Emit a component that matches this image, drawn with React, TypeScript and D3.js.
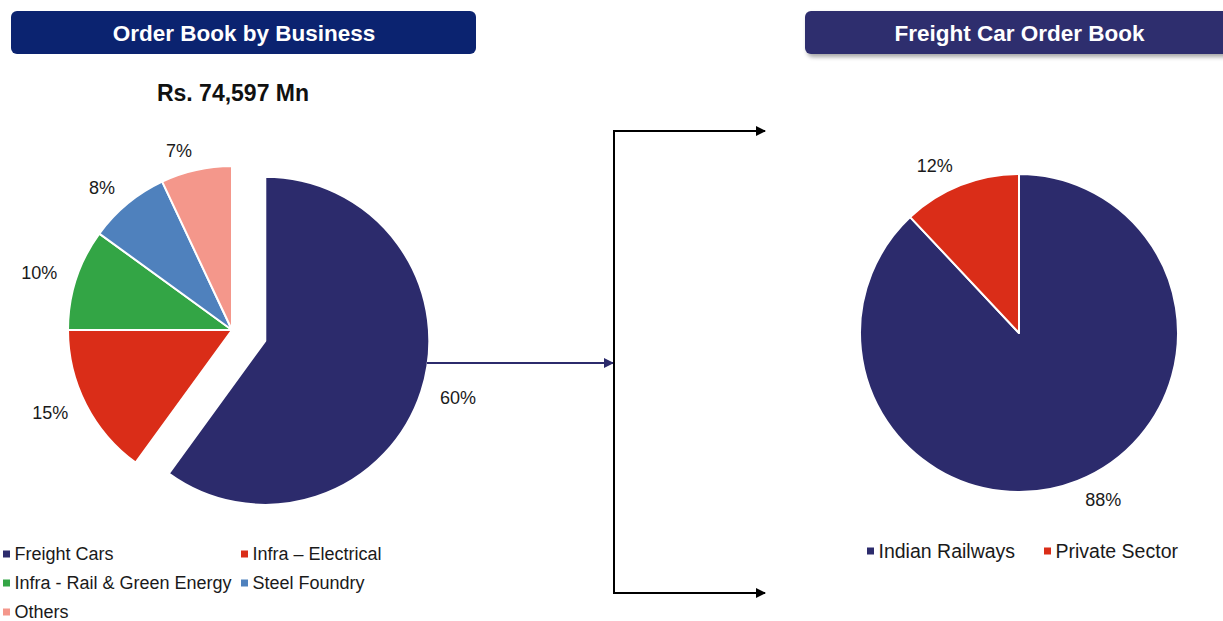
import * as d3 from 'd3'

const businessNames = ['Freight Cars', 'Infra – Electrical', 'Infra - Rail & Green Energy', 'Steel Foundry', 'Others']
const businessShares = [60, 15, 10, 8, 7]
const businessColors = ['#2c2b6c', '#da2d18', '#33a545', '#4f81bd', '#f4978b']

const freightNames = ['Indian Railways', 'Private Sector']
const freightShares = [88, 12]
const freightColors = ['#2c2b6c', '#da2d18']

const leftTitle = 'Order Book by Business'
const rightTitle = 'Freight Car Order Book'
const totalLabel = 'Rs. 74,597 Mn'

const W = 1223
const H = 621
const FONT = 'Liberation Sans, Arial, sans-serif'

type Slice = d3.PieArcDatum<number>

function labelFor(d: Slice, cx: number, cy: number, dist: number) {
  const mid = (d.startAngle + d.endAngle) / 2
  const s = Math.sin(mid)
  const x = cx + s * dist
  const y = cy - Math.cos(mid) * dist
  const anchor = s > 0.05 ? 'start' : s < -0.05 ? 'end' : 'middle'
  return { x, y, anchor }
}

function BusinessPie() {
  const cx = 232
  const cy = 330
  const r = 164
  const explode = 35
  const pie = d3.pie<number>().sort(null).value((v) => v)
  const arcs = pie(businessShares)
  const arc = d3.arc<Slice>().innerRadius(0).outerRadius(r)
  return (
    <g>
      {arcs.map((d, i) => {
        const mid = (d.startAngle + d.endAngle) / 2
        const off = i === 0 ? explode : 0
        const ox = cx + Math.sin(mid) * off
        const oy = cy - Math.cos(mid) * off
        const lab = labelFor(d, ox, oy, r * 1.12)
        return (
          <g key={i}>
            <path d={arc(d) || undefined} transform={`translate(${ox},${oy})`} fill={businessColors[i]} stroke="#fff" strokeWidth={2} strokeLinejoin="round" />
            <text x={lab.x} y={lab.y} textAnchor={lab.anchor} dominantBaseline="central" fontSize={18} fontFamily={FONT} fill="#1a1a1a">
              {businessShares[i]}%
            </text>
          </g>
        )
      })}
    </g>
  )
}

function FreightPie() {
  const cx = 1019
  const cy = 333
  const r = 159
  const pie = d3.pie<number>().sort(null).value((v) => v)
  const arcs = pie(freightShares)
  const arc = d3.arc<Slice>().innerRadius(0).outerRadius(r)
  return (
    <g>
      {arcs.map((d, i) => {
        const lab = labelFor(d, cx, cy, r * 1.13)
        return (
          <g key={i}>
            <path d={arc(d) || undefined} transform={`translate(${cx},${cy})`} fill={freightColors[i]} stroke="#fff" strokeWidth={2} strokeLinejoin="round" />
            <text x={lab.x} y={lab.y} textAnchor={lab.anchor} dominantBaseline="central" fontSize={18} fontFamily={FONT} fill="#1a1a1a">
              {freightShares[i]}%
            </text>
          </g>
        )
      })}
    </g>
  )
}

function Legend({ names, colors, x0, y0, colW, rowH, cols, fontSize }: { names: string[]; colors: string[]; x0: number; y0: number; colW: number; rowH: number; cols: number; fontSize: number }) {
  return (
    <g>
      {names.map((n, i) => {
        const x = x0 + (i % cols) * colW
        const y = y0 + Math.floor(i / cols) * rowH
        return (
          <g key={n}>
            <rect x={x} y={y - 3.5} width={7} height={7} fill={colors[i]} />
            <text x={x + 11.5} y={y} dominantBaseline="central" fontSize={fontSize} fontFamily={FONT} fill="#1a1a1a">
              {n}
            </text>
          </g>
        )
      })}
    </g>
  )
}

export default function App() {
  return (
    <svg width={W} height={H} viewBox={`0 0 ${W} ${H}`} style={{ position: 'absolute', left: 0, top: 0, display: 'block', background: '#fff' }}>
      <defs>
        <filter id="shadow" x="-10%" y="-30%" width="130%" height="180%">
          <feDropShadow dx={2} dy={3} stdDeviation={2} floodColor="#000" floodOpacity={0.35} />
        </filter>
        <marker id="arrBlack" viewBox="0 0 10 10" refX={9} refY={5} markerWidth={5} markerHeight={5} orient="auto">
          <path d="M0,0 L10,5 L0,10 z" fill="#000" />
        </marker>
        <marker id="arrNavy" viewBox="0 0 10 10" refX={9} refY={5} markerWidth={5} markerHeight={5} orient="auto">
          <path d="M0,0 L10,5 L0,10 z" fill="#2c2b6c" />
        </marker>
      </defs>

      <rect x={11} y={11} width={465} height={43} rx={6} fill="#0b2370" />
      <text x={244} y={33} textAnchor="middle" dominantBaseline="central" fontSize={22.5} fontWeight="bold" fontFamily={FONT} fill="#fff">
        {leftTitle}
      </text>

      <rect x={805} y={11} width={430} height={43} rx={6} fill="#2e2d6e" filter="url(#shadow)" />
      <text x={1019.5} y={33} textAnchor="middle" dominantBaseline="central" fontSize={22.5} fontWeight="bold" fontFamily={FONT} fill="#fff">
        {rightTitle}
      </text>

      <text x={233} y={93} textAnchor="middle" dominantBaseline="central" fontSize={23} fontWeight="bold" fontFamily={FONT} fill="#111">
        {totalLabel}
      </text>

      <BusinessPie />
      <FreightPie />

      <line x1={427} y1={363} x2={613} y2={363} stroke="#2c2b6c" strokeWidth={2} markerEnd="url(#arrNavy)" />
      <path d="M765,131 L614,131 L614,593 L765,593" fill="none" stroke="#000" strokeWidth={2} />
      <line x1={614} y1={131} x2={765} y2={131} stroke="#000" strokeWidth={2} markerEnd="url(#arrBlack)" />
      <line x1={614} y1={593} x2={765} y2={593} stroke="#000" strokeWidth={2} markerEnd="url(#arrBlack)" />

      <Legend names={businessNames} colors={businessColors} x0={3} y0={554} colW={238} rowH={29} cols={2} fontSize={18} />
      <Legend names={freightNames} colors={freightColors} x0={867} y0={551} colW={177} rowH={29} cols={2} fontSize={19.5} />
    </svg>
  )
}
